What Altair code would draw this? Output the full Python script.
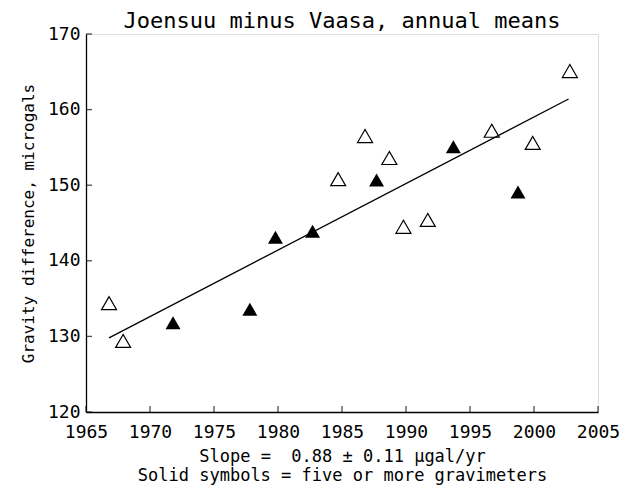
import altair as alt
import pandas as pd

# Open symbols (fewer than five gravimeters)
open_years = [1966.8, 1967.9, 1984.7, 1986.8, 1988.7, 1989.8, 1991.7, 1996.7, 1999.9, 2002.8]
open_vals = [134.4, 129.4, 150.8, 156.5, 153.6, 144.5, 145.4, 157.2, 155.6, 165.1]
# Solid symbols (five or more gravimeters)
solid_years = [1971.8, 1977.8, 1979.8, 1982.7, 1987.7, 1993.7, 1998.75]
solid_vals = [131.8, 133.6, 143.1, 143.9, 150.7, 155.1, 149.1]
# Fitted line end points
fit_years = [1966.8, 2002.7]
fit_vals = [129.8, 161.4]

x_ticks = [1965, 1970, 1975, 1980, 1985, 1990, 1995, 2000, 2005]
y_ticks = [120, 130, 140, 150, 160, 170]

FONT = "DejaVu Sans Mono"
W, H = 512, 378

df_open = pd.DataFrame({"year": open_years, "val": open_vals})
df_solid = pd.DataFrame({"year": solid_years, "val": solid_vals})
df_fit = pd.DataFrame({"year": fit_years, "val": fit_vals})
df_xt = pd.DataFrame({"year": x_ticks})
df_yt = pd.DataFrame({"val": y_ticks})

xs = alt.Scale(domain=[1965, 2005], nice=False, zero=False)
ys = alt.Scale(domain=[120, 170], nice=False, zero=False)

xaxis = alt.Axis(values=x_ticks, format="d", ticks=False, grid=False,
                 labelOverlap=False, labelFlush=False,
                 labelFont=FONT, labelFontSize=18, labelColor="black",
                 labelPadding=11, domainColor="black", domainWidth=1.3,
                 title=["Slope = \u00a00.88 ± 0.11 µgal/yr", "Solid symbols = five or more gravimeters"],
                 titleFont=FONT, titleFontSize=17, titleFontWeight="normal",
                 titleColor="black", titlePadding=7, titleLineHeight=19)
yaxis = alt.Axis(values=y_ticks, format="d", ticks=False, grid=False,
                 labelOverlap=False, labelFlush=False,
                 labelFont=FONT, labelFontSize=18, labelColor="black",
                 labelPadding=6, domainColor="black", domainWidth=1.3,
                 title="Gravity difference, microgals",
                 titleFont=FONT, titleFontSize=16, titleFontWeight="normal",
                 titleColor="black", titlePadding=11)

base_x = alt.X("year:Q", scale=xs, axis=xaxis)
base_y = alt.Y("val:Q", scale=ys, axis=yaxis)

fit = alt.Chart(df_fit).mark_line(color="black", strokeWidth=1.3).encode(x=base_x, y=base_y)

opens = alt.Chart(df_open).mark_point(shape="triangle-up", size=225, filled=False,
                                      color="black", strokeWidth=1.2, opacity=1).encode(
    x=alt.X("year:Q", scale=xs), y=alt.Y("val:Q", scale=ys))
solids = alt.Chart(df_solid).mark_point(shape="triangle-up", size=225, filled=True,
                                        color="black", opacity=1).encode(
    x=alt.X("year:Q", scale=xs), y=alt.Y("val:Q", scale=ys))

xt = alt.Chart(df_xt).mark_tick(orient="vertical", size=6, color="black", thickness=1.3).encode(
    x=alt.X("year:Q", scale=xs), y=alt.value(H - 3))
yt = alt.Chart(df_yt).mark_tick(orient="horizontal", size=6, color="black", thickness=1.3).encode(
    y=alt.Y("val:Q", scale=ys), x=alt.value(3))

chart = alt.layer(fit, xt, yt, opens, solids).properties(
    width=W, height=H,
    title=alt.TitleParams("Joensuu minus Vaasa, annual means", font=FONT, fontSize=22,
                          fontWeight="normal", color="black", anchor="middle",
                          offset=-8),
    autosize=alt.AutoSizeParams(type="none"),
    padding={"left": 78, "top": 26, "right": 26, "bottom": 76},
).configure_view(stroke=None).configure(background="white")

chart.save("out.html", embed_options={"renderer": "svg", "actions": False})
